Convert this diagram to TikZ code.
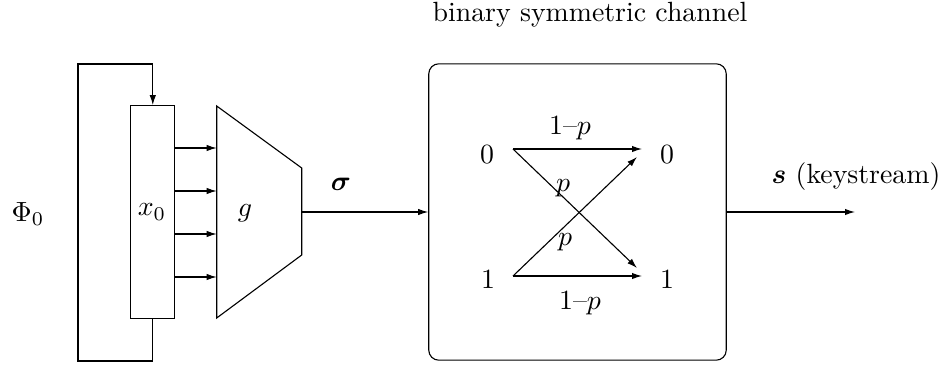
\documentclass[tikz,border=0pt]{standalone}
\usepackage{amsmath,bm}
\usetikzlibrary{arrows.meta}
\begin{document}
\begin{tikzpicture}[x=0.3597pt,y=-0.3597pt,
  >={Latex[length=3.6pt,width=2.3pt]},
  lbl/.style={inner sep=0pt},
  regbox/.style={draw,inner sep=0pt,minimum width=15.9pt,minimum height=76.7pt},
  chbox/.style={draw,rounded corners=3.6pt,inner sep=0pt,minimum width=107pt,minimum height=106.6pt}]
\useasboundingbox (0,0) rectangle (946,364);
% register
\node[regbox] (reg) at (152.8,212.3) {};
\node[lbl] (x0) at (152,212) {$x_0$};
\node[lbl] (phi) at (28,214) {$\Phi_0$};
% feedback loop
\coordinate (lb) at (78,361);
\coordinate (lt) at (78,64);
\draw[->] (reg.south) |- (lb) -- (lt) -| (reg.north);
% function g
\coordinate (gtl) at (216.7,106);
\coordinate (gbl) at (216.7,318);
\coordinate (gtr) at (301.7,168);
\coordinate (gbr) at (301.7,255);
\draw (gtl) -- (gtr) -- (gbr) -- (gbl) -- cycle;
\node[lbl] (g) at (245,213) {$g$};
\foreach \yy in {148,191,234,277}
  \draw[->] (reg.east |- 0,\yy) -- (gtl |- 0,\yy);
% channel
\node[chbox] (bsc) at (577.5,212) {};
\node[lbl] (title) at (590,15) {binary symmetric channel};
\coordinate (gout) at (301.7,212);
\draw[->] (gout) -- (bsc.west |- gout);
\node[lbl] (sigma) at (341,184) {$\bm{\sigma}$};
\coordinate (send) at (855,212);
\draw[->] (bsc.east |- send) -- (send);
\node[lbl] (s) at (856,177) {$\bm{s}$ (keystream)};
% inside channel
\node[lbl] (i0) at (487,155) {$0$};
\node[lbl] (i1) at (488,280) {$1$};
\node[lbl] (o0) at (667,155) {$0$};
\node[lbl] (o1) at (667,280) {$1$};
\coordinate (a0) at (513,149);
\coordinate (a1) at (513,276);
\coordinate (b0) at (642,149);
\coordinate (b1) at (642,276);
\coordinate (c0) at (637,157);
\coordinate (c1) at (637,268);
\draw[->] (a0) -- (b0);
\draw[->] (a1) -- (b1);
\draw[->] (a0) -- (c1);
\draw[->] (a1) -- (c0);
\node[lbl] (l00) at (570,128) {1--$p$};
\node[lbl] (l01) at (563,188) {$p$};
\node[lbl] (l10) at (565,242) {$p$};
\node[lbl] (l11) at (580,303) {1--$p$};
\end{tikzpicture}
\end{document}
